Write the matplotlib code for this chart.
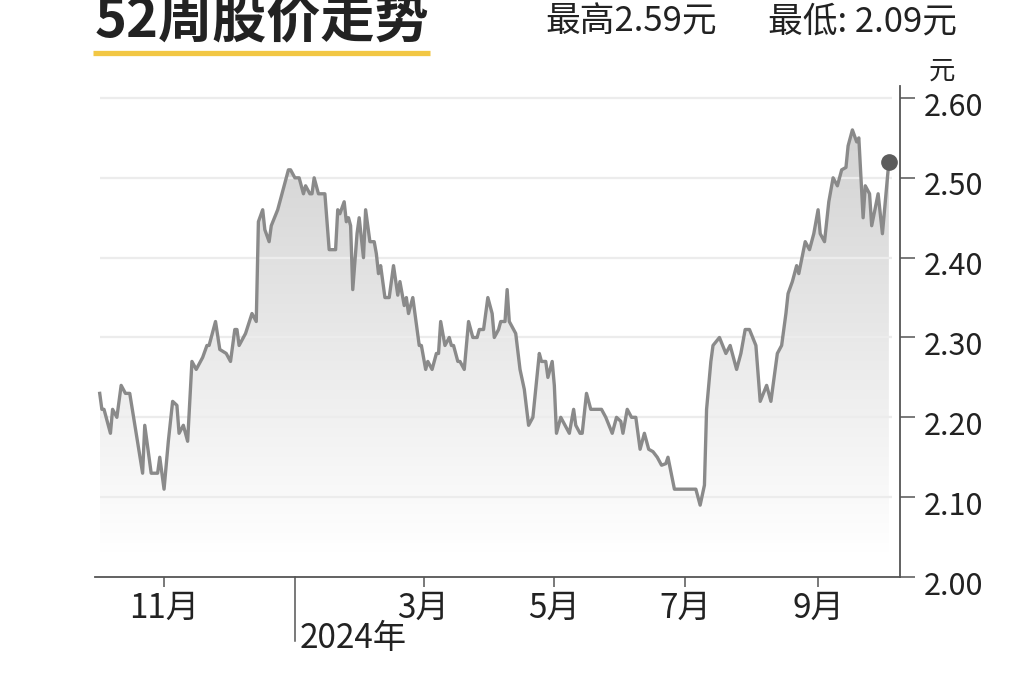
import matplotlib
matplotlib.use("Agg")
import matplotlib.dates as mdates
import matplotlib.pyplot as plt
import matplotlib.transforms as mtransforms
import numpy as np
import pandas as pd
from matplotlib.colors import LinearSegmentedColormap
from matplotlib.lines import Line2D
from matplotlib.patches import PathPatch

# 52-week closing prices (day offsets from START_DATE)
START_DATE = "2023-10-02"
DAY_OFFSETS = [
    0, 1, 2, 5, 6, 8, 10, 12, 14, 20, 21, 24, 27, 28, 30, 32, 34, 36, 37, 39,
    41, 43, 45, 47, 48, 50, 51, 54, 56, 59, 61, 63, 64, 65, 68, 71, 73, 74, 76, 77,
    79, 80, 83, 84, 88, 89, 91, 93, 95, 96, 98, 99, 100, 102, 105, 107, 110, 111, 112, 114,
    115, 116, 117, 118, 120, 121, 123, 124, 126, 128, 129, 130, 131, 133, 135, 137, 139, 140, 142, 143,
    144, 146, 149, 150, 152, 153, 155, 157, 158, 159, 161, 163, 164, 165, 167, 168, 170, 172, 174, 176,
    177, 179, 180, 181, 183, 184, 186, 187, 189, 190, 191, 194, 196, 198, 200, 202, 205, 206, 208, 209,
    211, 212, 213, 215, 217, 219, 221, 222, 224, 225, 227, 229, 231, 234, 236, 239, 241, 243, 244, 246,
    248, 250, 252, 254, 256, 258, 260, 262, 264, 265, 268, 271, 278, 280, 282, 283, 285, 286, 289, 292,
    294, 297, 299, 301, 303, 306, 308, 311, 313, 316, 318, 320, 321, 323, 325, 326, 329, 331, 333, 335,
    336, 338, 340, 342, 344, 346, 348, 349, 351, 353, 354, 356, 357, 359, 360, 363, 365, 368,
]
PRICES = [
    2.23, 2.21, 2.21, 2.18, 2.21, 2.20, 2.24, 2.23, 2.23, 2.13, 2.19, 2.13, 2.13, 2.15, 2.11, 2.17, 2.22, 2.215, 2.18, 2.19,
    2.17, 2.27, 2.26, 2.27, 2.275, 2.29, 2.29, 2.32, 2.285, 2.28, 2.27, 2.31, 2.31, 2.29, 2.305, 2.33, 2.32, 2.445, 2.46, 2.435,
    2.42, 2.44, 2.46, 2.47, 2.51, 2.51, 2.50, 2.50, 2.48, 2.49, 2.48, 2.48, 2.50, 2.48, 2.48, 2.41, 2.41, 2.46, 2.455, 2.47,
    2.445, 2.45, 2.44, 2.36, 2.43, 2.45, 2.40, 2.46, 2.42, 2.42, 2.405, 2.38, 2.39, 2.35, 2.35, 2.39, 2.353, 2.37, 2.34, 2.35,
    2.33, 2.35, 2.29, 2.29, 2.26, 2.27, 2.26, 2.28, 2.28, 2.32, 2.29, 2.30, 2.29, 2.29, 2.27, 2.27, 2.26, 2.32, 2.30, 2.30,
    2.31, 2.31, 2.33, 2.35, 2.33, 2.30, 2.31, 2.32, 2.32, 2.36, 2.32, 2.305, 2.26, 2.235, 2.19, 2.20, 2.28, 2.27, 2.27, 2.25,
    2.27, 2.24, 2.18, 2.20, 2.19, 2.18, 2.21, 2.19, 2.18, 2.18, 2.23, 2.21, 2.21, 2.21, 2.20, 2.18, 2.20, 2.195, 2.18, 2.21,
    2.20, 2.20, 2.16, 2.18, 2.16, 2.157, 2.15, 2.14, 2.142, 2.15, 2.11, 2.11, 2.11, 2.09, 2.115, 2.21, 2.27, 2.29, 2.30, 2.28,
    2.29, 2.26, 2.28, 2.31, 2.31, 2.29, 2.22, 2.24, 2.22, 2.28, 2.29, 2.33, 2.355, 2.37, 2.39, 2.38, 2.42, 2.41, 2.43, 2.46,
    2.43, 2.42, 2.47, 2.50, 2.49, 2.51, 2.513, 2.54, 2.56, 2.545, 2.55, 2.45, 2.49, 2.48, 2.44, 2.48, 2.43, 2.52,
]

Y_TICKS = [2.00, 2.10, 2.20, 2.30, 2.40, 2.50, 2.60]
Y_TICK_LABELS = ["2.00", "2.10", "2.20", "2.30", "2.40", "2.50", "2.60"]
X_TICK_DATES = ["2023-11-01", "2024-03-01", "2024-05-01", "2024-07-01", "2024-09-01"]
X_TICK_LABELS = ["11月", "3月", "5月", "7月", "9月"]
YEAR_DATE = "2024-01-01"
YEAR_LABEL = "2024年"
TITLE = "52周股价走势"
HIGH_TEXT = "最高2.59元"
LOW_TEXT = "最低: 2.09元"
UNIT = "元"

LINE_COLOR = "#8a8a8a"
AXIS_COLOR = "#555555"
TEXT_COLOR = "#222222"
GRID_COLOR = "#ececec"
YELLOW = "#f2c744"

plt.rcParams["font.family"] = ["Noto Sans CJK SC", "DejaVu Sans"]

dates = pd.to_datetime(START_DATE) + pd.to_timedelta(DAY_OFFSETS, unit="D")
x_num = mdates.date2num(dates)

fig = plt.figure(figsize=(10.24, 6.82), dpi=100)
ax = fig.add_axes([95 / 1024, 1 - 577 / 682, 805 / 1024, 491 / 682])

x_left = x_num[0] - 2.2
x_right = x_num[0] + 373.2
y_bottom, y_top = 2.0, 2.615

# gradient fill under the line, clipped to the area polygon
area = ax.fill_between(dates, PRICES, y_bottom, facecolor="none", edgecolor="none")
clip = PathPatch(area.get_paths()[0], transform=ax.transData, facecolor="none", edgecolor="none")
ax.add_patch(clip)
grad = np.linspace(1, 0, 256).reshape(-1, 1)
cmap = LinearSegmentedColormap.from_list("fade", ["#ffffff", "#d2d2d2"])
img = ax.imshow(grad, extent=[x_num[0], x_num[-1], 2.03, 2.57], origin="upper",
                cmap=cmap, aspect="auto", zorder=1, interpolation="bilinear")
img.set_clip_path(clip)

ax.hlines(Y_TICKS[1:], x_num[0], x_num[-1] + 1.5, color=GRID_COLOR, linewidth=1.6, zorder=1.5)

ax.plot(dates, PRICES, color=LINE_COLOR, linewidth=2.4, solid_joinstyle="round", zorder=3)
ax.plot(dates[-1:], PRICES[-1:], "o", color="#5c5c5c", markersize=11, zorder=4)

ax.set_xlim(x_left, x_right)
ax.set_ylim(y_bottom, y_top)

for side in ["top", "left"]:
    ax.spines[side].set_visible(False)
for side in ["bottom", "right"]:
    ax.spines[side].set_color(AXIS_COLOR)
    ax.spines[side].set_linewidth(1.3)

ax.yaxis.tick_right()
ax.set_yticks(Y_TICKS, Y_TICK_LABELS)
ax.tick_params(axis="y", length=11, width=1.1, color=AXIS_COLOR, pad=6,
               labelsize=22, labelcolor=TEXT_COLOR)
# labels sit a little below their ticks in the original
shift = mtransforms.ScaledTranslation(0, -4 / 72, fig.dpi_scale_trans)
for lab in ax.get_yticklabels():
    lab.set_transform(lab.get_transform() + shift)
ax.set_xticks(pd.to_datetime(X_TICK_DATES), X_TICK_LABELS)
ax.tick_params(axis="x", length=7, width=1.1, color=AXIS_COLOR, pad=3,
               labelsize=24, labelcolor=TEXT_COLOR)

# year separator below the axis
year_x = mdates.date2num(pd.to_datetime(YEAR_DATE))
ax.plot([year_x, year_x], [0, -0.13], transform=ax.get_xaxis_transform(),
        color=AXIS_COLOR, linewidth=1.1, clip_on=False)
ax.text(year_x + 2.2, -0.145, YEAR_LABEL, transform=ax.get_xaxis_transform(),
        fontsize=24, color=TEXT_COLOR, ha="left", va="baseline")

# header
fig.text(95 / 1024, 1 - 36 / 682, TITLE, fontsize=39, fontweight="black",
         color=TEXT_COLOR, ha="left", va="baseline")
fig.add_artist(Line2D([93 / 1024, 430 / 1024], [1 - 52.5 / 682] * 2,
                      color=YELLOW, linewidth=3.8, solid_capstyle="butt"))
fig.text(545 / 1024, 1 - 31 / 682, HIGH_TEXT, fontsize=25, color=TEXT_COLOR,
         ha="left", va="baseline")
fig.text(957 / 1024, 1 - 31 / 682, LOW_TEXT, fontsize=25, color=TEXT_COLOR,
         ha="right", va="baseline")
fig.text(955 / 1024, 1 - 79 / 682, UNIT, fontsize=19, color=TEXT_COLOR,
         ha="right", va="baseline")

fig.savefig("out.png", dpi=100, facecolor="white")
